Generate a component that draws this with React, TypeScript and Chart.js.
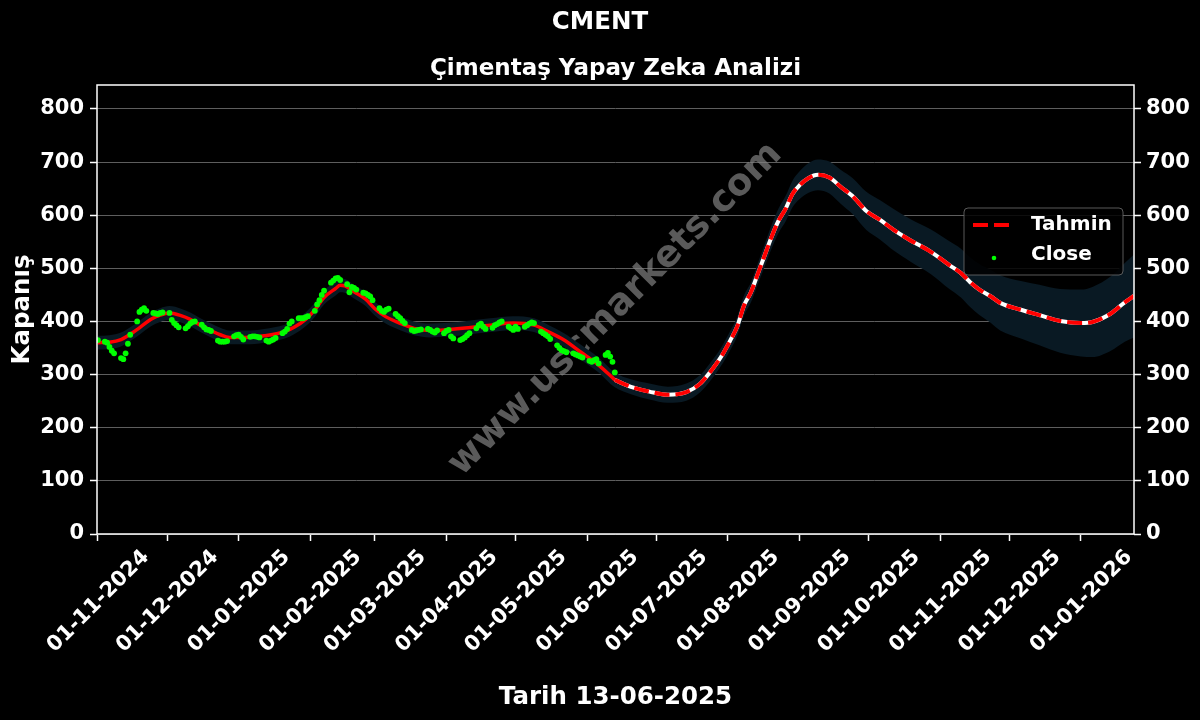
import React, { useEffect, useRef } from "react";
import { Chart, registerables } from "chart.js";

Chart.register(...registerables);

const FONT = '"DejaVu Sans", "Liberation Sans", sans-serif';

// ---- texts ----
const chartTitle = "CMENT";
const chartSubtitle = "Çimentaş Yapay Zeka Analizi";
const xAxisTitle = "Tarih 13-06-2025";
const yAxisTitle = "Kapanış";
const watermarkText = "www.uscmarkets.com";
const forecastLabel = "Tahmin";
const closeLabel = "Close";

// ---- axes ----
const xTickLabels = [
  "01-11-2024", "01-12-2024", "01-01-2025", "01-02-2025", "01-03-2025",
  "01-04-2025", "01-05-2025", "01-06-2025", "01-07-2025", "01-08-2025",
  "01-09-2025", "01-10-2025", "01-11-2025", "01-12-2025", "01-01-2026",
];
const yTicks = [0, 100, 200, 300, 400, 500, 600, 700, 800];
const xRange = [-0.4, 449]; // days from 01-11-2024
const yRange = [0, 845];

// ---- Close (weekday closes, 01-11-2024 .. 13-06-2025) ----
const closeLastDate = "13-06-2025";
const closeNov = [365, 362, 360, 352, 345, 340, 331, 329, 340, 358, 375, 400, 418, 422, 425, 420, 416, 415, 414, 416, 417];
const closeDec = [416, 403, 397, 393, 389, 387, 391, 396, 399, 400, 394, 389, 385, 384, 382, 364, 362, 362, 362, 363, 372, 374];
const closeJan = [375, 371, 366, 371, 372, 372, 371, 370, 364, 362, 364, 366, 369, 378, 381, 386, 396, 400, 406, 406, 406, 408, 410];
const closeFeb = [420, 432, 440, 450, 458, 473, 477, 481, 482, 478, 470, 455, 465, 463, 460, 454, 453, 450, 447, 440];
const closeMar = [425, 420, 418, 422, 424, 414, 410, 406, 401, 397, 384, 382, 383, 384, 385, 386, 384, 381, 379, 383, 378];
const closeApr = [382, 384, 372, 368, 365, 367, 370, 374, 378, 387, 393, 396, 390, 386, 388, 393, 395, 398, 400, 390, 387, 384];
const closeMay = [390, 386, 390, 393, 396, 398, 397, 381, 378, 375, 372, 367, 355, 350, 346, 344, 342, 340, 338, 336, 334, 332];
const closeJun = [326, 324, 327, 329, 321, 337, 341, 334, 324, 304];

// ---- model fit over history (day index, value, band half-width) ----
const fitDays = [0, 5, 10, 14, 18, 23, 27, 31, 36, 40, 44, 49, 53, 57, 64, 72, 81, 85, 90, 94, 98, 103, 105, 107, 111, 116, 120, 124, 129, 133, 137, 144, 150, 158, 170, 180, 189, 195, 202, 209, 217, 224];
const fitValues = [360, 361, 366, 376, 388, 404, 412, 416, 411, 404, 394, 383, 375, 370, 370, 373, 381, 389, 404, 422, 445, 462, 468, 467, 456, 442, 424, 411, 400, 393, 387, 383, 384, 387, 393, 397, 393, 381, 365, 343, 318, 290];
const fitBand = [13, 13, 13, 13, 13, 13, 13, 13, 13, 13, 13, 13, 13, 13, 13, 13, 13, 13, 13, 13, 13, 13, 13, 13, 13, 13, 13, 13, 13, 13, 13, 13, 13, 13, 13, 13, 13, 13, 13, 14, 14, 14];

// ---- forecast (Tahmin) ----
const forecastDays = [224, 231, 239, 247, 255, 261, 265, 270, 274, 277, 280, 283, 286, 289, 292, 295, 298, 301, 304, 308, 312, 317, 322, 327, 333, 339, 345, 352, 361, 369, 374, 378, 382, 387, 391, 400, 408, 417, 426, 431, 439, 445, 449];
const forecastValues = [290, 277, 268, 262, 267, 283, 303, 333, 364, 390, 430, 455, 490, 525, 560, 590, 612, 640, 656, 670, 676, 671, 653, 636, 608, 591, 572, 553, 531, 506, 491, 474, 460, 447, 435, 422, 412, 401, 397, 399, 415, 436, 448];
const forecastBand = [14, 14, 15, 15, 16, 16, 17, 17, 18, 18, 19, 19, 20, 21, 22, 23, 24, 25, 26, 28, 29, 30, 32, 34, 36, 37, 39, 40, 42, 45, 46, 47, 48, 50, 52, 54, 57, 60, 63, 66, 70, 74, 78];

// ---- colours ----
const RED = "#ff0000";
const GREEN = "#00ff00";
const BAND = "#091923";
const GRID = "#5e5e5e";

const DAY_MS = 86400000;
const ORIGIN = Date.UTC(2024, 10, 1);
function dayOfLabel(label: string): number {
  const [d, m, y] = label.split("-").map(Number);
  return Math.round((Date.UTC(y, m - 1, d) - ORIGIN) / DAY_MS);
}
const xTickDays = xTickLabels.map(dayOfLabel);

function weekdays(): number[] {
  const out: number[] = [];
  const end = dayOfLabel(closeLastDate);
  for (let i = 0; i <= end; i++) {
    const wd = new Date(ORIGIN + i * DAY_MS).getUTCDay();
    if (wd !== 0 && wd !== 6) out.push(i);
  }
  return out;
}

const decorPlugin = {
  id: "decor",
  beforeDraw(chart: any) {
    const { ctx, width, height } = chart;
    ctx.save();
    ctx.fillStyle = "#000";
    ctx.fillRect(0, 0, width, height);
    ctx.restore();
  },
  beforeDatasetsDraw(chart: any) {
    const { ctx, chartArea: a } = chart;
    ctx.save();
    ctx.translate((a.left + a.right) / 2, (a.top + a.bottom) / 2);
    ctx.rotate(-Math.PI / 4);
    ctx.font = `bold 37px ${FONT}`;
    ctx.fillStyle = "rgba(128,128,128,0.7)";
    ctx.textAlign = "center";
    ctx.textBaseline = "middle";
    ctx.fillText(watermarkText, 0, 0);
    ctx.restore();
  },
  afterDraw(chart: any) {
    const { ctx, chartArea: a } = chart;
    ctx.save();
    // spines
    ctx.strokeStyle = "#fff";
    ctx.lineWidth = 1.5;
    ctx.strokeRect(a.left, a.top, a.right - a.left, a.bottom - a.top);

    // legend
    const ds = chart.data.datasets;
    const tahmin = ds.find((d: any) => d.label === forecastLabel);
    const close = ds.find((d: any) => d.label === closeLabel);
    const bw = 159, bh = 67;
    const bx = a.right - 11 - bw;
    const by = a.top + 123;
    ctx.beginPath();
    ctx.roundRect(bx, by, bw, bh, 4);
    ctx.fillStyle = "rgba(0,0,0,0.85)";
    ctx.fill();
    ctx.strokeStyle = "rgba(110,110,110,0.8)";
    ctx.lineWidth = 1;
    ctx.stroke();

    const row1 = by + 17, row2 = by + 47;
    ctx.beginPath();
    ctx.setLineDash(tahmin.borderDash);
    ctx.strokeStyle = tahmin.borderColor;
    ctx.lineWidth = tahmin.borderWidth;
    ctx.moveTo(bx + 9, row1);
    ctx.lineTo(bx + 47, row1);
    ctx.stroke();
    ctx.setLineDash([]);

    ctx.beginPath();
    ctx.fillStyle = close.pointBackgroundColor;
    ctx.arc(bx + 30, row2 + 3, 2.3, 0, Math.PI * 2);
    ctx.fill();

    ctx.fillStyle = "#fff";
    ctx.font = `bold 20px ${FONT}`;
    ctx.textAlign = "left";
    ctx.textBaseline = "middle";
    ctx.fillText(tahmin.label, bx + 67, row1);
    ctx.fillText(close.label, bx + 67, row2);
    ctx.restore();
  },
};

export default function App() {
  const ref = useRef<HTMLCanvasElement | null>(null);

  useEffect(() => {
    document.body.style.margin = "0";
    document.body.style.background = "#000";
    const canvas = ref.current;
    if (!canvas) return;

    const closeDays = weekdays();
    const closeValues = [...closeNov, ...closeDec, ...closeJan, ...closeFeb, ...closeMar, ...closeApr, ...closeMay, ...closeJun];
    const closePts = closeValues.map((v, i) => ({ x: closeDays[i], y: v }));

    const bandDays = [...fitDays.slice(0, -1), ...forecastDays];
    const bandMid = [...fitValues.slice(0, -1), ...forecastValues];
    const bandHalf = [...fitBand.slice(0, -1), ...forecastBand];
    const lower = bandDays.map((d, i) => ({ x: d, y: bandMid[i] - bandHalf[i] }));
    const upper = bandDays.map((d, i) => ({ x: d, y: bandMid[i] + bandHalf[i] }));
    const fitPts = fitDays.map((d, i) => ({ x: d, y: fitValues[i] }));
    const fcPts = forecastDays.map((d, i) => ({ x: d, y: forecastValues[i] }));

    const tickFont = { family: FONT, size: 21, weight: "bold" as const };
    const titleFont = { family: FONT, size: 24.5, weight: "bold" as const };

    const yTickSetter = (scale: any) => {
      scale.ticks = yTicks.map((v) => ({ value: v }));
    };

    const chart = new Chart(canvas, {
      type: "line",
      data: {
        datasets: [
          { label: "band-lower", data: lower, borderColor: "transparent", borderWidth: 0, pointRadius: 0, fill: false, cubicInterpolationMode: "monotone", order: 10 },
          { label: "band-upper", data: upper, borderColor: "transparent", borderWidth: 0, pointRadius: 0, fill: "-1", backgroundColor: BAND, cubicInterpolationMode: "monotone", order: 9 },
          { label: "fit", data: fitPts, borderColor: RED, borderWidth: 3.5, pointRadius: 0, fill: false, cubicInterpolationMode: "monotone", order: 5 },
          { label: "forecast-base", data: fcPts, borderColor: "#ffffff", borderWidth: 4, pointRadius: 0, fill: false, cubicInterpolationMode: "monotone", order: 4 },
          { label: forecastLabel, data: fcPts, borderColor: RED, borderWidth: 4, borderDash: [15, 6], pointRadius: 0, fill: false, cubicInterpolationMode: "monotone", order: 3 },
          { label: closeLabel, data: closePts, showLine: false, pointRadius: 2.9, pointBackgroundColor: GREEN, pointBorderWidth: 0, borderColor: GREEN, order: 1 },
        ] as any,
      },
      options: {
        animation: false,
        responsive: false,
        devicePixelRatio: 1,
        events: [],
        layout: { padding: 0 },
        plugins: {
          legend: { display: false },
          tooltip: { enabled: false },
          title: { display: true, text: chartTitle, color: "#fff", font: titleFont, padding: { top: 8, bottom: 8 } },
          subtitle: { display: true, text: chartSubtitle, color: "#fff", fullSize: false, font: { family: FONT, size: 23, weight: "bold" }, padding: { top: 10, bottom: 2 } },
        },
        scales: {
          x: {
            type: "linear",
            position: "bottom",
            min: xRange[0],
            max: xRange[1],
            afterBuildTicks: (scale: any) => {
              scale.ticks = xTickDays.map((v) => ({ value: v }));
            },
            afterFit: (scale: any) => {
              scale.height = 186;
              scale.paddingLeft = 0;
              scale.paddingRight = 0;
            },
            ticks: {
              autoSkip: false,
              minRotation: 45,
              maxRotation: 45,
              labelOffset: 48,
              padding: 4,
              color: "#fff",
              font: tickFont,
              callback: (v: any) => {
                const i = xTickDays.indexOf(Number(v));
                return i >= 0 ? xTickLabels[i] : "";
              },
            },
            grid: { drawOnChartArea: false, drawTicks: true, tickLength: 7, tickColor: "#fff", tickWidth: 1.5 },
            border: { display: false },
            title: { display: true, text: xAxisTitle, color: "#fff", font: titleFont, padding: { top: 0, bottom: 8 } },
          },
          y: {
            type: "linear",
            position: "left",
            min: yRange[0],
            max: yRange[1],
            afterBuildTicks: yTickSetter,
            afterFit: (scale: any) => {
              scale.width = 97;
              scale.paddingTop = 0;
              scale.paddingBottom = 0;
            },
            ticks: { color: "#fff", font: tickFont, padding: 6, callback: (v: any) => String(v) },
            grid: { color: GRID, lineWidth: 1, drawTicks: true, tickLength: 7, tickColor: "#fff", tickWidth: 1.5 },
            border: { display: false },
            title: { display: true, text: yAxisTitle, color: "#fff", font: titleFont, padding: { top: 8, bottom: 0 } },
          },
          y1: {
            type: "linear",
            position: "right",
            min: yRange[0],
            max: yRange[1],
            afterBuildTicks: yTickSetter,
            afterFit: (scale: any) => {
              scale.width = 66;
              scale.paddingTop = 0;
              scale.paddingBottom = 0;
            },
            ticks: { color: "#fff", font: tickFont, padding: 5, callback: (v: any) => String(v) },
            grid: { drawOnChartArea: false, drawTicks: true, tickLength: 7, tickColor: "#fff", tickWidth: 1.5 },
            border: { display: false },
          },
        },
      } as any,
      plugins: [decorPlugin],
    });

    return () => chart.destroy();
  }, []);

  return (
    <div style={{ width: 1200, height: 720, background: "#000" }}>
      <canvas ref={ref} width={1200} height={720} style={{ display: "block" }} />
    </div>
  );
}
